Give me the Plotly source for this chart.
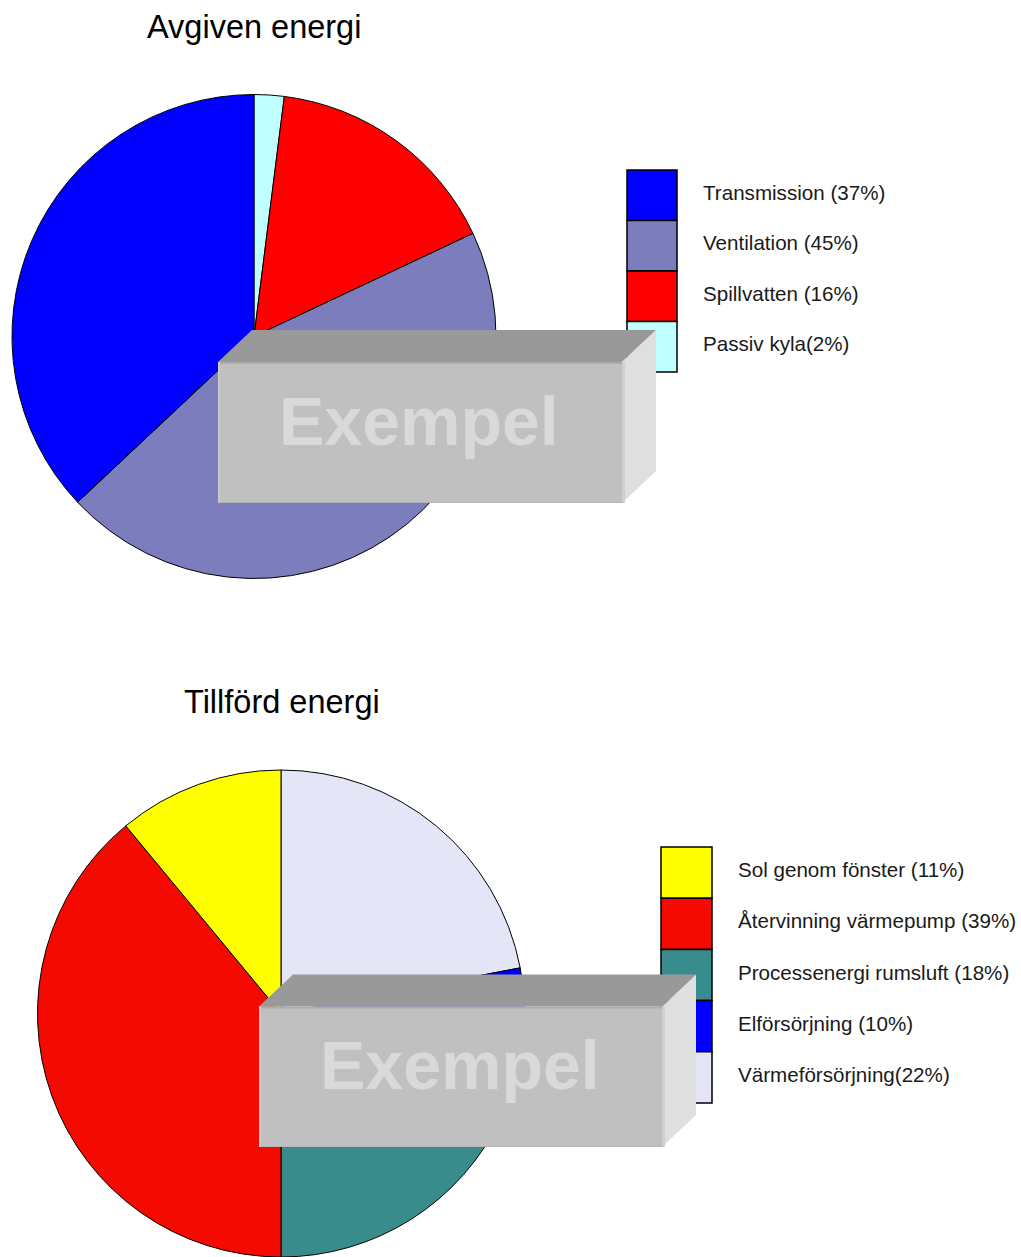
import plotly.graph_objects as go

# ---- data -------------------------------------------------------------
avgiven_title = "Avgiven energi"
avgiven_names = ["Transmission", "Ventilation", "Spillvatten", "Passiv kyla"]
avgiven_sep = [" ", " ", " ", ""]
avgiven_values = [37, 45, 16, 2]
avgiven_colors = ["#0000ff", "#7b7dbd", "#ff0000", "#bfffff"]

tillford_title = "Tillförd energi"
tillford_names = ["Sol genom fönster", "Återvinning värmepump",
                  "Processenergi rumsluft", "Elförsörjning", "Värmeförsörjning"]
tillford_sep = [" ", " ", " ", " ", ""]
tillford_values = [11, 39, 18, 10, 22]
tillford_colors = ["#ffff00", "#f40a00", "#388c8c", "#0000ff", "#e4e6f8"]

watermark = "Exempel"

# ---- page geometry (pixels) --------------------------------------------
W, H = 1021, 1257
FONT = "Liberation Sans, Arial, sans-serif"


def px(x):
    return x / W


def py(y):
    return 1 - y / H


def pie_domain(cx, cy, r):
    return dict(x=[px(cx - r), px(cx + r)], y=[py(cy + r), py(cy - r)])


panels = [
    dict(title=avgiven_title, names=avgiven_names, sep=avgiven_sep,
         values=avgiven_values, colors=avgiven_colors,
         center=(254, 336.5), radius=242, title_pos=(253.5, 27),
         legend_box=(627, 170, 50, 50.5), legend_text_x=701,
         mark=(218, 362, 622, 503)),
    dict(title=tillford_title, names=tillford_names, sep=tillford_sep,
         values=tillford_values, colors=tillford_colors,
         center=(281, 1013.5), radius=243.5, title_pos=(281.5, 701.5),
         legend_box=(661, 847, 51, 51.2), legend_text_x=736,
         mark=(259, 1006.5, 662, 1147)),
]

fig = go.Figure()
shapes = []
annotations = []

for p in panels:
    labels = [f"{n}{s}({v}%)" for n, s, v in zip(p["names"], p["sep"], p["values"])]
    cx, cy = p["center"]
    # legend order runs anticlockwise from 12 o'clock, so feed the slices
    # in reverse order and sweep clockwise
    fig.add_trace(go.Pie(
        labels=labels[::-1],
        values=p["values"][::-1],
        marker=dict(colors=p["colors"][::-1], line=dict(color="#000000", width=1)),
        sort=False,
        direction="clockwise",
        rotation=0,
        textinfo="none",
        hoverinfo="label",
        showlegend=False,
        domain=pie_domain(cx, cy, p["radius"]),
    ))

    # chart title
    tx, ty = p["title_pos"]
    annotations.append(dict(
        text=p["title"], x=px(tx), y=py(ty), xref="paper", yref="paper",
        xanchor="center", yanchor="middle", showarrow=False,
        font=dict(family=FONT, size=32.5, color="#000000")))

    # legend: stacked colour boxes with labels
    lx, ly, lw, lh = p["legend_box"]
    for i, (lab, col) in enumerate(zip(labels, p["colors"])):
        y0 = ly + i * lh
        shapes.append(dict(
            type="rect", xref="paper", yref="paper",
            x0=px(lx), x1=px(lx + lw), y0=py(y0 + lh), y1=py(y0),
            fillcolor=col, line=dict(color="#000000", width=1.5)))
        annotations.append(dict(
            text=lab, x=px(p["legend_text_x"]), y=py(y0 + lh / 2 - 3),
            xref="paper", yref="paper", xanchor="left", yanchor="middle",
            showarrow=False,
            font=dict(family=FONT, size=20.6, color="#1a1a1a")))

# ---- "Exempel" watermark blocks -------------------------------------------
DX, DY = 34, 32


def poly(points):
    return "M " + " L ".join(f"{px(x):.6f},{py(y):.6f}" for x, y in points) + " Z"


def line(x0, y0, x1, y1, color, width):
    return dict(type="line", xref="paper", yref="paper",
                x0=px(x0), y0=py(y0), x1=px(x1), y1=py(y1),
                line=dict(color=color, width=width))


for p in panels:
    x0, y0, x1, y1 = p["mark"]
    # top face
    shapes.append(dict(type="path", xref="paper", yref="paper",
                       path=poly([(x0, y0), (x0 + DX, y0 - DY), (x1 + DX, y0 - DY), (x1, y0)]),
                       fillcolor="#999999", line=dict(width=0)))
    # right face
    shapes.append(dict(type="path", xref="paper", yref="paper",
                       path=poly([(x1, y0), (x1 + DX, y0 - DY), (x1 + DX, y1 - DY), (x1, y1)]),
                       fillcolor="#dfdfdf", line=dict(width=0)))
    # front face
    shapes.append(dict(type="rect", xref="paper", yref="paper",
                       x0=px(x0), x1=px(x1), y0=py(y1), y1=py(y0),
                       fillcolor="#c0c0c0", line=dict(width=0)))
    # bevel edges
    shapes.append(line(x0, y0 + 1, x1, y0 + 1, "#acacac", 2))
    shapes.append(line(x0, y1 - 0.5, x1, y1 - 0.5, "#b4b4b4", 1))
    shapes.append(line(x0 + 1, y0, x0 + 1, y1, "#c9c9c9", 2))
    shapes.append(line(x1 + 1.5, y0, x1 + 1.5, y1, "#d0d0d0", 3))

    annotations.append(dict(
        text=f"<b>{watermark}</b>", x=px((x0 + x1) / 2 - 1), y=py((y0 + y1) / 2 - 12),
        xref="paper", yref="paper", xanchor="center", yanchor="middle",
        showarrow=False,
        font=dict(family=FONT, size=68, color="#d9d9d9")))

fig.update_layout(
    width=W, height=H,
    margin=dict(l=0, r=0, t=0, b=0),
    paper_bgcolor="#ffffff",
    plot_bgcolor="#ffffff",
    shapes=shapes,
    annotations=annotations,
)

fig.write_html("out.html", config={"displayModeBar": False})
